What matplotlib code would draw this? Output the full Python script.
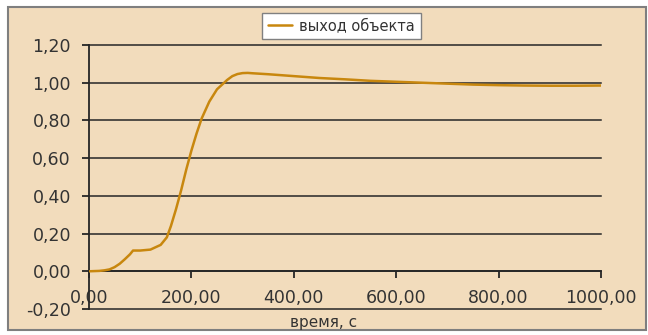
import matplotlib.pyplot as plt
from matplotlib.patches import Rectangle

plt.rcParams['font.family'] = ['DejaVu Sans']

# Data
t = [0, 20, 30, 40, 50, 60, 70, 80, 86, 100, 120, 140, 152, 160, 170, 180,
     190, 200, 210, 220, 235, 250, 262, 270, 280, 290, 300, 310, 320, 350,
     400, 450, 500, 550, 600, 650, 700, 750, 800, 850, 900, 950, 1000]
y_out = [0, 0.002, 0.005, 0.01, 0.022, 0.04, 0.064, 0.09, 0.11, 0.11, 0.115,
         0.14, 0.18, 0.24, 0.33, 0.43, 0.54, 0.64, 0.73, 0.81, 0.90, 0.965,
         0.995, 1.015, 1.035, 1.046, 1.051, 1.052, 1.05, 1.045, 1.035, 1.025,
         1.018, 1.01, 1.005, 1.0, 0.995, 0.99, 0.987, 0.985, 0.984, 0.984,
         0.985]

x_ticks = [0, 200, 400, 600, 800, 1000]
x_labels = ['0,00', '200,00', '400,00', '600,00', '800,00', '1000,00']
y_ticks = [-0.2, 0, 0.2, 0.4, 0.6, 0.8, 1.0, 1.2]
y_labels = ['-0,20', '0,00', '0,20', '0,40', '0,60', '0,80', '1,00', '1,20']

line_color = '#C8870E'
grid_color = '#262626'

fig = plt.figure(figsize=(6.48, 3.35), dpi=100)
fig.patch.set_facecolor('white')

# beige chart area with grey border
panel = Rectangle((8 / 648, 5 / 335), 638 / 648, 323 / 335,
                  transform=fig.transFigure, facecolor='#F2DCBC',
                  edgecolor='#7f7f7f', linewidth=1.5, zorder=-1)
fig.patches.append(panel)

ax = fig.add_axes([89 / 648, 1 - 309 / 335, 512 / 648, 264 / 335])
ax.set_facecolor('none')
ax.set_zorder(1)

ax.plot(t, y_out, color=line_color, linewidth=1.8, label='выход объекта',
        solid_capstyle='round', solid_joinstyle='round', zorder=3)

ax.set_xlim(0, 1000)
ax.set_ylim(-0.2, 1.2)
ax.set_yticks(y_ticks)
ax.set_yticklabels(y_labels)
ax.set_xticks(x_ticks)
ax.set_xticklabels(x_labels)

for side in ['top', 'right']:
    ax.spines[side].set_visible(False)
ax.spines['bottom'].set_position(('data', 0))
ax.spines['bottom'].set_color(grid_color)
ax.spines['bottom'].set_linewidth(1.3)
ax.spines['left'].set_color(grid_color)
ax.spines['left'].set_linewidth(1.3)

ax.yaxis.grid(True, color=grid_color, linewidth=1.1)
for gl in ax.get_ygridlines():
    gl.set_clip_on(False)
ax.set_axisbelow(True)

ax.tick_params(axis='y', direction='out', length=5, width=1.3, color=grid_color,
               labelsize=12.5, labelcolor='#333333', pad=8)
ax.tick_params(axis='x', direction='out', length=5, width=1.3, color=grid_color,
               labelsize=12.5, labelcolor='#333333', pad=8)

fig.text(324 / 648, 1 - 322 / 335, 'время, с', ha='center', va='center',
         fontsize=11, color='#333333')

leg = fig.legend(loc='center', bbox_to_anchor=(341.5 / 648, 1 - 26 / 335),
                 fontsize=10.5, frameon=True, fancybox=False, handlelength=1.65,
                 borderpad=0.4, handletextpad=0.45, framealpha=1)
leg.get_frame().set_edgecolor('#808080')
leg.get_frame().set_linewidth(1.0)
leg.get_frame().set_facecolor('white')
leg.set_zorder(5)
for txt in leg.get_texts():
    txt.set_color('#333333')

fig.savefig('out.png', dpi=100)
